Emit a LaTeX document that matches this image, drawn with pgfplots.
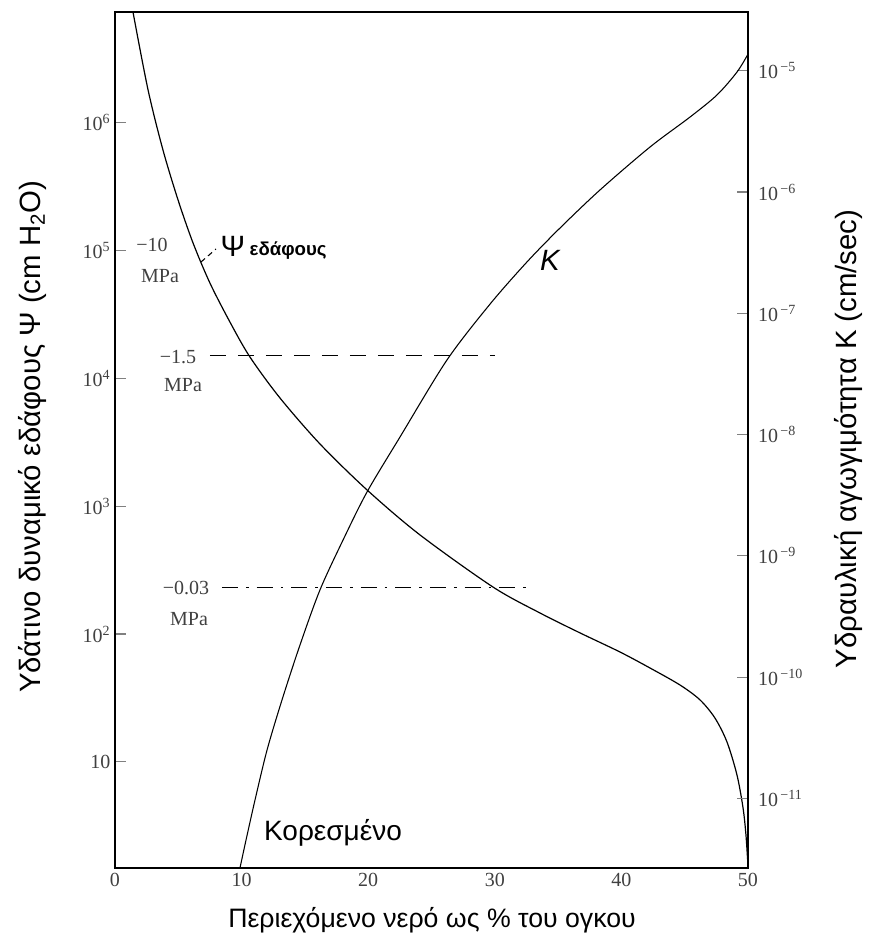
\documentclass[border=0pt]{standalone}
\usepackage{pgfplots}
\pgfplotsset{compat=1.18}
\usepackage{fontspec}
\setmainfont{Liberation Sans}
\newfontfamily\serif{Liberation Serif}

\begin{document}
\begin{tikzpicture}
\useasboundingbox (-86.25pt,-62.25pt) rectangle (570.75pt,651pt);
\begin{axis}[
  scale only axis, width=474.75pt, height=642pt,
  xmin=0, xmax=50, ymode=log, ymin=1.476, ymax=7.36e6,
  xtick={0,10,20,30,40,50}, xticklabels={0,10,20,30,40,50},
  ytick={10,100,1000,10000,100000,1000000},
  yticklabels={10,10\textsuperscript{2},10\textsuperscript{3},10\textsuperscript{4},10\textsuperscript{5},10\textsuperscript{6}},
  xtick pos=bottom, ytick pos=left, yminorticks=false,
  tick align=inside, major tick length=8pt,
  xtick style={draw=none},
  ytick style={line width=0.8pt},
  ticklabel style={font=\serif\fontsize{15}{15}\selectfont, text=black!75},
  axis line style={line width=1pt},
]
\addplot[black, line width=0.9pt, smooth] coordinates {
(1.42,7.36e6) (2.61,1.81e6) (3.79,6.12e5) (4.98,2.49e5) (6.16,1.15e5) (7.50,5.57e4)
(9.08,2.76e4) (10.66,1.47e4) (13.03,7.03e3) (16.19,3.07e3) (19.91,1.34e3)
(24.09,596) (29.86,233) (33.57,146) (36.73,102) (39.89,72.3) (42.26,54.2)
(44.63,39.9) (46.21,30.5) (47.39,22.0) (48.34,14.3) (49.13,7.89) (49.61,4.35)
(49.84,2.67) (50.0,1.53)
};
\addplot[black, line width=0.8pt, dash pattern=on 12pt off 9pt] coordinates {(7.5,1.5e4) (30.0,1.5e4)};
\addplot[black, line width=0.8pt, dash pattern=on 12pt off 6pt on 2pt off 6pt] coordinates {(8.45,230) (32.8,230)};
\end{axis}
\begin{axis}[
  scale only axis, width=474.75pt, height=642pt,
  xmin=0, xmax=50, ymode=log, ymin=2.673e-12, ymax=3.048e-5,
  axis y line*=right, axis x line=none,
  ytick={1e-11,1e-10,1e-9,1e-8,1e-7,1e-6,1e-5},
  yticklabels={10\textsuperscript{\,−11},10\textsuperscript{\,−10},10\textsuperscript{\,−9},10\textsuperscript{\,−8},10\textsuperscript{\,−7},10\textsuperscript{\,−6},10\textsuperscript{\,−5}},
  yminorticks=false, tick align=inside, major tick length=8pt,
  ytick style={line width=0.8pt},
  yticklabel style={font=\serif\fontsize{15}{15}\selectfont, text=black!75, xshift=4pt},
  axis line style={line width=1pt},
]
\addplot[black, line width=0.8pt, smooth] coordinates {
(9.87,2.67e-12) (10.35,4.55e-12) (11.06,9.73e-12) (12.01,2.51e-11) (13.19,6.49e-11)
(14.61,1.84e-10) (16.19,5.24e-10) (18.01,1.35e-9) (19.91,3.37e-9) (22.51,9.55e-9)
(26.22,4.12e-8) (29.62,1.19e-7) (32.54,2.65e-7) (35.15,5.05e-7) (38.31,1.04e-6)
(42.26,2.35e-6) (45.42,4.15e-6) (47.55,6.31e-6) (49.13,9.75e-6) (50.0,1.37e-5)
};
\end{axis}
\begin{scope}[x=0.75pt, y=-0.75pt, shift={(-86.25pt,651pt)}]
\node[font=\fontsize{20}{24}\selectfont] at (432,920) {Περιεχόμενο νερό ως \% του ογκου};
\node[rotate=90, font=\fontsize{22}{26}\selectfont] at (32,437) {Υδάτινο δυναμικό εδάφους Ψ (cm H\textsubscript{2}O)};
\node[rotate=90, font=\fontsize{22}{26}\selectfont] at (848,439) {Υδραυλική αγωγιμότητα K (cm/sec)};
\node[font=\fontsize{21}{25}\selectfont] at (333,833) {Κορεσμένο};
\node[font=\itshape\fontsize{22}{26}\selectfont] at (550,260) {K};
\node[font=\fontsize{22}{26}\selectfont] at (233,246) {Ψ};
\node[font=\bfseries\fontsize{14}{17}\selectfont, anchor=west] at (245,251) {εδάφους};
\draw[line width=0.8pt, dash pattern=on 4pt off 3pt] (201,262) -- (216,249);
\node[font=\serif\fontsize{15}{15}\selectfont, text=black!75] at (152,245) {−10};
\node[font=\serif\fontsize{15}{15}\selectfont, text=black!75] at (160,276) {MPa};
\node[font=\serif\fontsize{15}{15}\selectfont, text=black!75] at (178,357) {−1.5};
\node[font=\serif\fontsize{15}{15}\selectfont, text=black!75] at (183,385) {MPa};
\node[font=\serif\fontsize{15}{15}\selectfont, text=black!75] at (186,588) {−0.03};
\node[font=\serif\fontsize{15}{15}\selectfont, text=black!75] at (189,619) {MPa};
\end{scope}
\end{tikzpicture}
\end{document}
